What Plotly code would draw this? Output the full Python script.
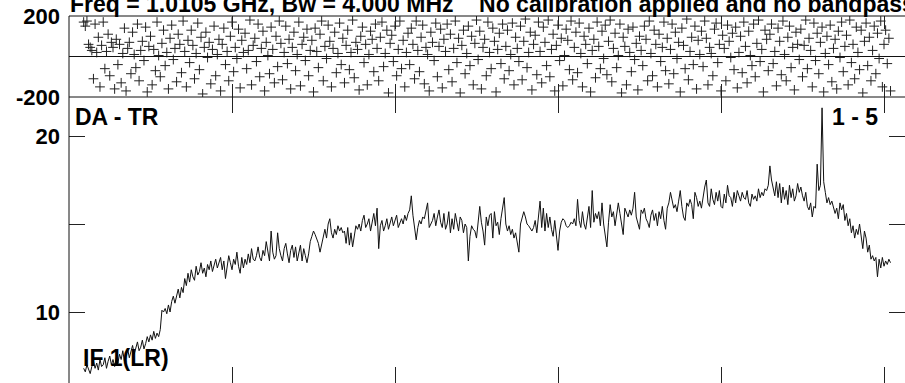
import plotly.graph_objects as go

# ---------------- data ----------------
first_channel = 9
amplitude = [
    6.8, 6.6, 7.0, 6.7, 6.5, 6.9, 7.2, 6.8, 7.1, 6.7, 7.3, 6.9, 7.0, 7.4, 6.8, 7.2, 7.5, 7.0, 7.3, 6.9,
    7.4, 7.1, 7.6, 7.3, 7.8, 7.2, 7.5, 7.9, 7.4, 7.7, 8.1, 7.6, 7.9, 8.3, 7.8, 8.0, 8.4, 7.9, 8.2, 8.6,
    8.3, 8.7, 8.4, 8.9, 8.5, 8.8, 8.6, 9.0, 10.1, 10.0, 10.2, 9.9, 10.4, 10.0, 10.6, 10.9, 10.5, 11.0, 11.3, 10.8,
    11.4, 11.1, 11.9, 11.5, 12.2, 11.7, 12.4, 12.0, 11.8, 12.6, 12.1, 12.3, 12.8, 12.2, 12.5, 12.0, 12.7, 12.4, 12.9, 12.3,
    12.6, 13.0, 12.5, 12.8, 13.1, 12.4, 12.9, 11.9, 12.6, 13.2, 12.8, 12.4, 13.0, 12.7, 13.4, 12.6, 12.2, 13.1, 12.5, 13.0,
    12.7, 13.3, 12.8, 13.6, 13.0, 12.9, 13.2, 13.7, 13.1, 12.9, 13.5, 13.2, 14.0, 13.3, 12.9, 14.6, 13.4, 13.0, 13.2, 14.5,
    13.6, 13.2, 12.9, 13.6, 13.9, 13.3, 12.8, 13.5, 13.8, 13.1, 13.7, 12.9, 13.4, 13.8, 12.9, 13.6, 13.2, 12.8, 13.3, 14.0,
    14.3, 14.6, 14.4, 14.1, 13.9, 13.4, 13.8, 14.3, 14.7, 14.2, 15.0, 15.3, 14.5, 14.2, 14.7, 14.4, 14.9, 14.6, 14.8, 14.5,
    14.6, 13.9, 14.8, 13.8, 14.5, 13.7, 14.4, 14.9, 14.7, 15.0, 14.6, 15.2, 15.5, 14.8, 15.0, 15.3, 14.6, 15.1, 15.6, 14.9,
    15.9, 13.6, 14.9, 15.2, 14.6, 14.9, 15.3, 14.7, 15.1, 15.4, 14.9, 15.2, 15.5, 14.8, 15.1, 15.3, 15.0, 15.5, 15.2, 15.6,
    15.8, 16.6, 15.5, 14.6, 14.1, 14.8, 15.2, 15.0, 15.4, 15.3, 15.7, 16.2, 14.8, 15.0, 15.2, 15.6, 14.9, 15.4, 15.8, 15.1,
    14.8, 15.6, 14.7, 15.0, 15.7, 14.5, 15.3, 14.7, 15.6, 15.1, 14.6, 15.4, 15.2, 14.5, 15.0, 14.8, 12.9, 14.3, 14.9, 14.7,
    14.6, 14.2, 15.2, 16.0, 15.1, 14.6, 13.8, 15.4, 14.9, 15.5, 15.6, 14.2, 15.7, 14.9, 15.1, 14.4, 15.3, 15.8, 16.5, 15.0,
    14.6, 14.9, 14.4, 14.7, 14.2, 14.5, 13.8, 13.4, 15.0, 15.3, 15.7, 15.4, 15.0, 14.9, 14.7, 14.6, 14.8, 15.2, 14.5, 15.5,
    16.3, 14.8, 15.9, 14.6, 15.6, 14.8, 15.4, 14.7, 14.3, 15.2, 14.5, 13.5, 14.6, 15.1, 15.3, 15.2, 14.9, 14.8, 14.9, 15.1,
    15.0, 15.3, 14.9, 16.4, 15.2, 14.8, 15.7, 15.0, 14.7, 15.5, 16.0, 14.8, 16.9, 15.1, 15.6, 15.3, 15.7, 14.9, 16.2, 15.0,
    14.3, 13.7, 15.1, 16.1, 15.4, 15.7, 14.9, 15.5, 16.2, 15.6, 15.0, 14.4, 15.9, 15.6, 15.4, 15.8, 15.5, 15.9, 16.8, 15.4,
    15.0, 14.7, 15.8, 15.6, 15.9, 15.3, 15.1, 14.8, 15.5, 15.8, 15.2, 15.6, 14.9, 15.7, 15.3, 16.0, 15.2, 14.7, 15.9, 16.2,
    16.8, 16.4, 15.9, 16.1, 15.7, 16.3, 16.9, 16.0, 15.4, 15.2, 16.2, 16.0, 16.4, 16.1, 15.3, 16.8, 16.5, 16.0, 16.3, 15.9,
    16.6, 17.1, 17.5, 16.2, 16.0, 17.0, 16.4, 16.1, 16.8, 16.3, 16.9, 16.0, 15.9, 16.7, 16.2, 17.2, 16.6, 16.5, 16.0, 16.8,
    16.2, 16.9, 16.6, 16.3, 16.8, 16.5, 16.4, 16.9, 16.2, 16.0, 16.7, 16.4, 16.6, 16.3, 17.0, 16.5, 16.8, 16.6, 17.0, 16.9,
    17.2, 18.3, 17.5, 17.0, 16.6, 17.4, 16.5, 17.3, 16.2, 17.1, 16.4, 16.9, 16.1, 17.2, 16.5, 17.0, 16.3, 16.6, 17.3, 16.8,
    17.1, 16.6, 16.3, 16.8, 16.0, 15.8, 16.2, 15.4, 16.0, 15.9, 18.4, 16.9, 17.2, 21.6, 17.4, 16.8, 16.2, 16.5, 16.1, 16.3,
    16.0, 15.6, 15.9, 15.3, 16.2, 15.8, 16.1, 15.2, 15.6, 14.9, 15.3, 14.5, 14.9, 14.2, 14.7, 14.4, 15.0, 14.3, 13.6, 14.6,
    14.2, 13.4, 13.8, 13.0, 13.2, 12.9, 13.1, 12.0, 13.0, 12.5, 13.1, 12.6, 12.9, 12.7, 13.0, 12.8,
]
phase = [
    170, 150, 175, 60, 45, 30, -110, 160, 20, 95, -150, 55, 170, -60, 25, 110, -95, 70, 45, -160,
    85, -40, 60, -130, 15, 140, -170, 40, 70, -85, 120, 10, -55, 160, -120, 30, 75, -20, 145, -175,
    50, 100, -140, 35, -70, 170, 5, -100, 65, 130, -45, 20, -160, 90, 155, -15, 40, -125, 110, 60,
    -80, 175, 25, -150, 80, -30, 130, 55, -110, 15, 165, -65, 95, -185, 45, 120, -5, 70, -135, 35,
    150, -95, 10, 85, -170, 60, 140, -40, 25, -120, 100, 170, -75, 45, -10, 135, -155, 80, 20, 115,
    -60, 30, 180, -140, 55, 90, -25, 160, -100, 40, 125, -170, 70, 5, -85, 145, 35, -130, 100, -50,
    175, 65, -115, 20, 150, -35, 85, -160, 45, 120, -70, 10, 170, -145, 60, 95, -20, 135, -95, 30,
    80, -175, 140, 25, -55, 110, 175, -120, 50, -10, 155, 75, -150, 40, 120, -80, 15, 165, -40, 90,
    -130, 55, 130, -65, 20, 180, -105, 70, 35, -165, 100, 145, -30, 60, -140, 10, 125, 85, -75, 160,
    40, -120, 95, 170, -50, 15, 130, -180, 65, 105, -25, 150, -95, 35, 175, -60, 80, -150, 20, 115,
    -40, 140, 60, -110, 175, 30, -75, 95, 155, -135, 45, 10, -170, 120, 70, -20, 165, -100, 50, 135,
    -155, 85, 25, 160, -65, 110, -125, 40, 175, -30, 90, -180, 55, 130, -85, 15, 150, -45, 100, -140,
    65, 180, -15, 125, -160, 45, 85, -95, 170, 20, -60, 140, 75, -175, 35, 115, -35, 160, -110, 50,
    130, -70, 10, 165, -140, 95, 40, -25, 150, -115, 75, 185, -55, 20, 120, -165, 60, 105, -90, 170,
    25, -130, 145, 70, -45, 180, -100, 35, 110, -170, 55, 155, -20, 90, -145, 5, 135, 80, -65, 175,
    -115, 45, 120, -80, 165, 15, -150, 100, 60, -35, 140, -175, 30, 85, -105, 170, 50, -60, 125, -10,
    155, -90, 75, 180, -125, 40, 115, -55, 5, 160, -180, 95, 50, -140, 135, 20, -75, 145, -15, 65,
    -165, 100, 30, -45, 150, 85, -120, 175, 15, -95, 130, 60, -150, 110, -25, 45, 170, -70, 90, -135,
    35, 160, -85, 120, -10, 70, -175, 140, 55, -60, 185, -115, 25, 95, -40, 150, -160, 80, 10, 125,
    -50, 175, 90, -140, 45, 15, -95, 135, 165, -30, 60, -170, 105, 40, -120, 155, 75, -5, 115, -65,
    145, -155, 20, 100, -80, 170, 50, -130, 125, 5, -45, 160, -100, 65, 180, -25, 35, -175, 130, 85,
    -70, 110, 160, -35, 25, -145, 140, 75, -90, 175, 10, -120, 95, 150, -55, 45, -165, 120, 60, -15,
    135, -100, 55, 180, -60, 90, 30, -150, 165, -20, 115, -85, 70, 145, -175, 15, 100, -40, 155, -125,
    40, 85, -160, 125, -5, 170, -75, 50, 105, -140, 180, -30, 60, -110, 145, 20, -65, 130, -180, 75,
    165, -45, 95, -120, 30, 150, -85, 115, -10, 175, -150, 60, 130, -35, 90, -170,
]
channels = list(range(first_channel, first_channel + len(amplitude)))

x_ticks = [100, 200, 300, 400, 500]
phase_ticks = [-200, 200]
phase_ticktext = ["-200", "200"]
amp_ticks = [10, 15, 20]
amp_ticktext = ["10", "", "20"]

title_text = "Freq = 1.0105 GHz, Bw = 4.000 MHz    No calibration applied and no bandpass"
label_tl = "DA - TR"
label_tr = "1 - 5"
label_bl = "IF 1(LR)"

# ---------------- layout helpers ----------------
W, H = 905, 383
def px(x):
    return x / W
def py(y):
    return 1 - y / H

FONT = "Liberation Sans, Arial, sans-serif"
X_LEFT = px(69)
TOP_DOM = [py(97), py(16)]
BOT_DOM = [0.0, py(97)]

fig = go.Figure()
fig.add_trace(go.Scatter(
    x=channels, y=phase, mode="markers", xaxis="x", yaxis="y",
    marker=dict(symbol="cross-thin", size=7, line=dict(width=1, color="#222222"), color="#222222"),
    hoverinfo="skip", showlegend=False,
))
fig.add_trace(go.Scatter(
    x=channels, y=amplitude, mode="lines", xaxis="x2", yaxis="y2",
    line=dict(color="#111111", width=1),
    hoverinfo="skip", showlegend=False,
))

xr = [0, 836 / 1.63]
common_x = dict(range=xr, tickvals=x_ticks, showticklabels=False, ticks="inside",
                mirror="ticks", showline=False, showgrid=False, zeroline=False,
                tickcolor="#222", tickwidth=1, automargin=False)
tick_font = dict(family=FONT, size=22, color="black", weight="bold")
fig.update_layout(
    width=W, height=H, margin=dict(l=0, r=0, t=0, b=0, pad=0, autoexpand=False),
    paper_bgcolor="white", plot_bgcolor="white",
    xaxis=dict(domain=[X_LEFT, 1.0], anchor="y", ticklen=13, **common_x),
    xaxis2=dict(domain=[X_LEFT, 1.0], anchor="y2", ticklen=16, **common_x),
    yaxis=dict(domain=TOP_DOM, anchor="x", range=[-200, 200], tickvals=phase_ticks,
               ticktext=phase_ticktext, ticks="inside", ticklen=14, mirror="ticks",
               showline=False, showgrid=False, zeroline=False, tickcolor="#222",
               ticklabelstandoff=8, automargin=False, tickfont=tick_font),
    yaxis2=dict(domain=BOT_DOM, anchor="x2", range=[10 - 71 / 17.6, 10 + 215 / 17.6],
                tickvals=amp_ticks, ticktext=amp_ticktext, ticks="inside", ticklen=16,
                mirror="ticks", showline=False, showgrid=False, zeroline=False,
                tickcolor="#222", ticklabelstandoff=8, automargin=False, tickfont=tick_font),
)

frame_line = dict(color="#111111", width=1)
fig.add_shape(type="line", xref="paper", yref="paper", x0=X_LEFT, x1=X_LEFT, y0=0, y1=TOP_DOM[1], line=frame_line)
fig.add_shape(type="line", xref="paper", yref="paper", x0=X_LEFT, x1=1.0, y0=TOP_DOM[1], y1=TOP_DOM[1], line=frame_line)
fig.add_shape(type="line", xref="paper", yref="paper", x0=X_LEFT, x1=1.0, y0=TOP_DOM[0], y1=TOP_DOM[0], line=frame_line)
fig.add_shape(type="line", xref="x domain", yref="y", x0=0, x1=1, y0=0, y1=0, line=frame_line)

ann_font = dict(family=FONT, size=23, color="black", weight="bold")
fig.add_annotation(text=title_text, xref="paper", yref="paper", x=px(68), y=py(19),
                   xanchor="left", yanchor="bottom", showarrow=False, font=ann_font)
fig.add_annotation(text=label_tl, xref="paper", yref="paper", x=px(73), y=py(116.5),
                   xanchor="left", yanchor="middle", showarrow=False, font=ann_font)
fig.add_annotation(text=label_tr, xref="paper", yref="paper", x=px(880), y=py(116.5),
                   xanchor="right", yanchor="middle", showarrow=False, font=ann_font)
fig.add_annotation(text=label_bl, xref="paper", yref="paper", x=px(81), y=py(357.5),
                   xanchor="left", yanchor="middle", showarrow=False, font=ann_font)

fig.write_html(
    "out.html",
    config={"displayModeBar": False, "staticPlot": True},
    post_script="document.body.style.margin='0';document.body.style.padding='0';"
                "document.body.style.overflow='hidden';",
)
